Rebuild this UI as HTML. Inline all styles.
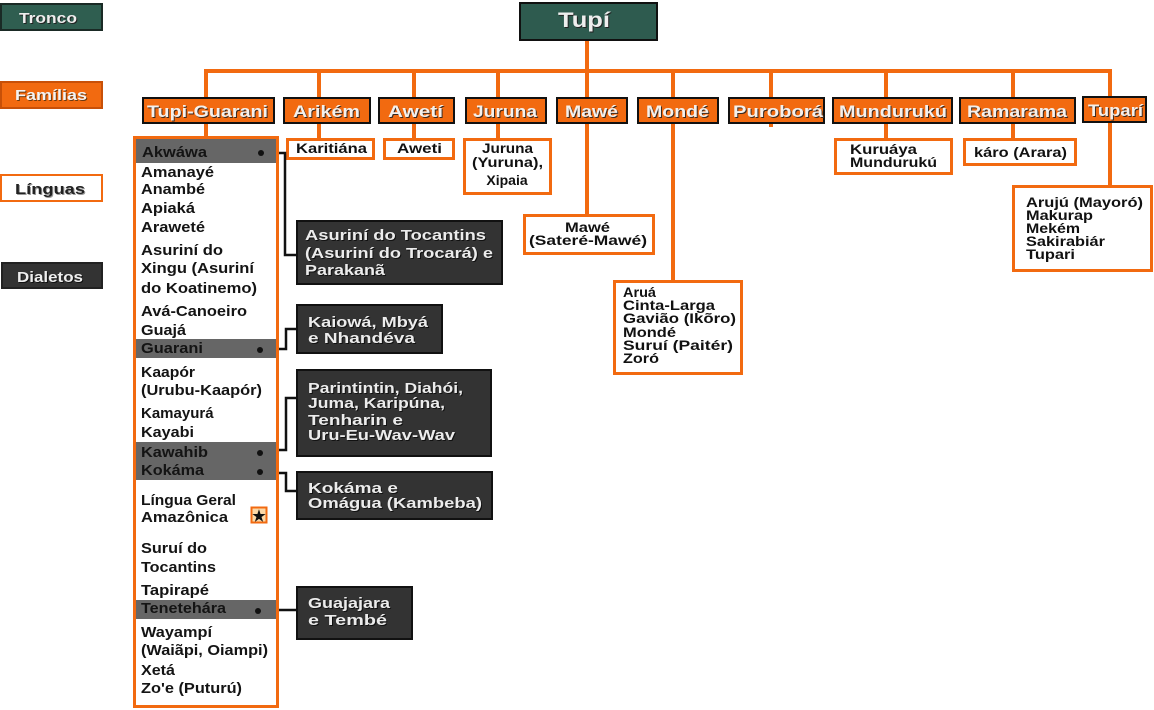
<!DOCTYPE html>
<html><head><meta charset="utf-8">
<style>
html,body{margin:0;padding:0;background:#fff;}
svg{display:block;}
text{font-family:"Liberation Sans",Arial,sans-serif;font-weight:bold;}
</style></head>
<body>
<svg width="1154" height="710" viewBox="0 0 1154 710" xmlns="http://www.w3.org/2000/svg">
<rect width="1154" height="710" fill="#fff"/>

<!-- Legend -->
<rect x="1" y="4" width="101" height="26" fill="#2f5e50" stroke="#1a2a25" stroke-width="2"/>
<text x="20" y="24" font-size="15" fill="#222" textLength="58" lengthAdjust="spacingAndGlyphs">Tronco</text>
<text x="19" y="23" font-size="15" fill="#eee" textLength="58" lengthAdjust="spacingAndGlyphs">Tronco</text>

<rect x="1" y="82" width="101" height="26" fill="#f26a10" stroke="#c85008" stroke-width="2"/>
<text x="16" y="101" font-size="15" fill="#6a3a10" textLength="72" lengthAdjust="spacingAndGlyphs">Famílias</text>
<text x="15" y="100" font-size="15" fill="#f4f4f4" textLength="72" lengthAdjust="spacingAndGlyphs">Famílias</text>

<rect x="1" y="175" width="101" height="26" fill="#fff" stroke="#f26a10" stroke-width="2"/>
<text x="16" y="195" font-size="15" fill="#999" textLength="70" lengthAdjust="spacingAndGlyphs">Línguas</text>
<text x="15" y="194" font-size="15" fill="#222" textLength="70" lengthAdjust="spacingAndGlyphs">Línguas</text>

<rect x="2" y="263" width="100" height="25" fill="#333" stroke="#222" stroke-width="2"/>
<text x="18" y="283" font-size="15" fill="#111" textLength="66" lengthAdjust="spacingAndGlyphs">Dialetos</text>
<text x="17" y="282" font-size="15" fill="#eee" textLength="66" lengthAdjust="spacingAndGlyphs">Dialetos</text>

<!-- Orange connectors -->
<g fill="#f26a10">
  <rect x="585" y="40" width="4" height="174"/>
  <rect x="204" y="69" width="908" height="4"/>
  <rect x="204" y="69" width="4" height="67"/>
  <rect x="317" y="69" width="4" height="69"/>
  <rect x="412" y="69" width="4" height="69"/>
  <rect x="496" y="69" width="4" height="69"/>
  <rect x="671" y="69" width="4" height="211"/>
  <rect x="769" y="69" width="4" height="58"/>
  <rect x="884" y="69" width="4" height="69"/>
  <rect x="1011" y="69" width="4" height="69"/>
  <rect x="1108" y="69" width="4" height="116"/>
</g>

<!-- Tupí -->
<rect x="520" y="3" width="137" height="37" fill="#2e5b4f" stroke="#111" stroke-width="2"/>
<text x="559" y="28" font-size="21" fill="#222" textLength="52" lengthAdjust="spacingAndGlyphs">Tupí</text>
<text x="558" y="27" font-size="21" fill="#eee" textLength="52" lengthAdjust="spacingAndGlyphs">Tupí</text>

<!-- Families -->
<g stroke="#111" stroke-width="2" fill="#f26a10">
  <rect x="143" y="98" width="131" height="25"/>
  <rect x="284" y="98" width="86" height="25"/>
  <rect x="379" y="98" width="75" height="25"/>
  <rect x="466" y="98" width="80" height="25"/>
  <rect x="557" y="98" width="70" height="25"/>
  <rect x="638" y="98" width="80" height="25"/>
  <rect x="729" y="98" width="95" height="25"/>
  <rect x="833" y="98" width="119" height="25"/>
  <rect x="960" y="98" width="115" height="25"/>
  <rect x="1083" y="97" width="63" height="25"/>
</g>
<g font-size="17" fill="#3a2a20">
  <text x="148" y="118" textLength="121" lengthAdjust="spacingAndGlyphs">Tupi-Guarani</text>
  <text x="294" y="118" textLength="67" lengthAdjust="spacingAndGlyphs">Arikém</text>
  <text x="389" y="118" textLength="55" lengthAdjust="spacingAndGlyphs">Awetí</text>
  <text x="474" y="118" textLength="64" lengthAdjust="spacingAndGlyphs">Juruna</text>
  <text x="566" y="118" textLength="53" lengthAdjust="spacingAndGlyphs">Mawé</text>
  <text x="647" y="118" textLength="63" lengthAdjust="spacingAndGlyphs">Mondé</text>
  <text x="734" y="118" textLength="90" lengthAdjust="spacingAndGlyphs">Puroborá</text>
  <text x="840" y="118" textLength="108" lengthAdjust="spacingAndGlyphs">Mundurukú</text>
  <text x="968" y="118" textLength="100" lengthAdjust="spacingAndGlyphs">Ramarama</text>
  <text x="1089" y="117" textLength="55" lengthAdjust="spacingAndGlyphs">Tuparí</text>
</g>
<g font-size="17" fill="#f4f0ec">
  <text x="147" y="117" textLength="121" lengthAdjust="spacingAndGlyphs">Tupi-Guarani</text>
  <text x="293" y="117" textLength="67" lengthAdjust="spacingAndGlyphs">Arikém</text>
  <text x="388" y="117" textLength="55" lengthAdjust="spacingAndGlyphs">Awetí</text>
  <text x="473" y="117" textLength="64" lengthAdjust="spacingAndGlyphs">Juruna</text>
  <text x="565" y="117" textLength="53" lengthAdjust="spacingAndGlyphs">Mawé</text>
  <text x="646" y="117" textLength="63" lengthAdjust="spacingAndGlyphs">Mondé</text>
  <text x="733" y="117" textLength="90" lengthAdjust="spacingAndGlyphs">Puroborá</text>
  <text x="839" y="117" textLength="108" lengthAdjust="spacingAndGlyphs">Mundurukú</text>
  <text x="967" y="117" textLength="100" lengthAdjust="spacingAndGlyphs">Ramarama</text>
  <text x="1088" y="116" textLength="55" lengthAdjust="spacingAndGlyphs">Tuparí</text>
</g>

<!-- Language boxes -->
<g fill="#fff" stroke="#f26a10" stroke-width="3">
  <rect x="287.5" y="139.5" width="86" height="19"/>
  <rect x="384.5" y="139.5" width="69" height="19"/>
  <rect x="464.5" y="139.5" width="86" height="54"/>
  <rect x="524.5" y="215.5" width="129" height="38"/>
  <rect x="614.5" y="281.5" width="127" height="92"/>
  <rect x="835.5" y="139.5" width="116" height="34"/>
  <rect x="964.5" y="139.5" width="111" height="25"/>
  <rect x="1013.5" y="186.5" width="138" height="84"/>
</g>
<g font-size="14" fill="#111">
  <text x="296" y="153" textLength="71" lengthAdjust="spacingAndGlyphs">Karitiána</text>
  <text x="397" y="153" textLength="45" lengthAdjust="spacingAndGlyphs">Aweti</text>
  <text x="482" y="153" textLength="51" lengthAdjust="spacingAndGlyphs">Juruna</text>
  <text x="472" y="167" textLength="71" lengthAdjust="spacingAndGlyphs">(Yuruna),</text>
  <text x="507" y="185" text-anchor="middle">Xipaia</text>
  <text x="565" y="232" textLength="45" lengthAdjust="spacingAndGlyphs">Mawé</text>
  <text x="529" y="245" textLength="118" lengthAdjust="spacingAndGlyphs">(Sateré-Mawé)</text>
  <text x="623" y="297" textLength="33" lengthAdjust="spacingAndGlyphs">Aruá</text>
  <text x="623" y="310" textLength="92" lengthAdjust="spacingAndGlyphs">Cinta-Larga</text>
  <text x="623" y="323" textLength="113" lengthAdjust="spacingAndGlyphs">Gavião (Ikõro)</text>
  <text x="623" y="337" textLength="53" lengthAdjust="spacingAndGlyphs">Mondé</text>
  <text x="623" y="350" textLength="110" lengthAdjust="spacingAndGlyphs">Suruí (Paitér)</text>
  <text x="623" y="363" textLength="36" lengthAdjust="spacingAndGlyphs">Zoró</text>
  <text x="850" y="154" textLength="67" lengthAdjust="spacingAndGlyphs">Kuruáya</text>
  <text x="850" y="167" textLength="87" lengthAdjust="spacingAndGlyphs">Mundurukú</text>
  <text x="974" y="157" textLength="93" lengthAdjust="spacingAndGlyphs">káro (Arara)</text>
  <text x="1026" y="207" textLength="117" lengthAdjust="spacingAndGlyphs">Arujú (Mayoró)</text>
  <text x="1026" y="220" textLength="67" lengthAdjust="spacingAndGlyphs">Makurap</text>
  <text x="1026" y="233" textLength="54" lengthAdjust="spacingAndGlyphs">Mekém</text>
  <text x="1026" y="246" textLength="79" lengthAdjust="spacingAndGlyphs">Sakirabiár</text>
  <text x="1026" y="259" textLength="49" lengthAdjust="spacingAndGlyphs">Tupari</text>
</g>

<!-- Left column -->
<rect x="134.5" y="137.5" width="143" height="569" fill="#fff" stroke="#f26a10" stroke-width="3"/>
<g fill="#666">
  <rect x="136" y="139" width="140" height="24"/>
  <rect x="136" y="339" width="140" height="19"/>
  <rect x="136" y="442" width="140" height="38"/>
  <rect x="136" y="600" width="140" height="19"/>
</g>
<g fill="#111">
  <circle cx="261" cy="153" r="3"/>
  <circle cx="260" cy="350" r="3"/>
  <circle cx="260" cy="453" r="3"/>
  <circle cx="260" cy="472" r="3"/>
  <circle cx="258" cy="611" r="3"/>
</g>
<g font-size="15" fill="#141414">
  <text x="142" y="157" textLength="65" lengthAdjust="spacingAndGlyphs">Akwáwa</text>
  <text x="141" y="177" textLength="73" lengthAdjust="spacingAndGlyphs">Amanayé</text>
  <text x="141" y="194" textLength="64" lengthAdjust="spacingAndGlyphs">Anambé</text>
  <text x="141" y="213" textLength="54" lengthAdjust="spacingAndGlyphs">Apiaká</text>
  <text x="141" y="232" textLength="64" lengthAdjust="spacingAndGlyphs">Araweté</text>
  <text x="141" y="255" textLength="82" lengthAdjust="spacingAndGlyphs">Asuriní do</text>
  <text x="141" y="273" textLength="113" lengthAdjust="spacingAndGlyphs">Xingu (Asuriní</text>
  <text x="141" y="293" textLength="116" lengthAdjust="spacingAndGlyphs">do Koatinemo)</text>
  <text x="141" y="316" textLength="106" lengthAdjust="spacingAndGlyphs">Avá-Canoeiro</text>
  <text x="141" y="335" textLength="45" lengthAdjust="spacingAndGlyphs">Guajá</text>
  <text x="141" y="353" textLength="62" lengthAdjust="spacingAndGlyphs">Guarani</text>
  <text x="141" y="377" textLength="54" lengthAdjust="spacingAndGlyphs">Kaapór</text>
  <text x="141" y="395" textLength="121" lengthAdjust="spacingAndGlyphs">(Urubu-Kaapór)</text>
  <text x="141" y="418">Kamayurá</text>
  <text x="141" y="437" textLength="53" lengthAdjust="spacingAndGlyphs">Kayabi</text>
  <text x="141" y="457" textLength="67" lengthAdjust="spacingAndGlyphs">Kawahib</text>
  <text x="141" y="475" textLength="63" lengthAdjust="spacingAndGlyphs">Kokáma</text>
  <text x="141" y="505" textLength="95" lengthAdjust="spacingAndGlyphs">Língua Geral</text>
  <text x="141" y="522" textLength="87" lengthAdjust="spacingAndGlyphs">Amazônica</text>
  <text x="141" y="553" textLength="66" lengthAdjust="spacingAndGlyphs">Suruí do</text>
  <text x="141" y="572" textLength="75" lengthAdjust="spacingAndGlyphs">Tocantins</text>
  <text x="141" y="595" textLength="68" lengthAdjust="spacingAndGlyphs">Tapirapé</text>
  <text x="141" y="613" textLength="85" lengthAdjust="spacingAndGlyphs">Tenetehára</text>
  <text x="141" y="637" textLength="71" lengthAdjust="spacingAndGlyphs">Wayampí</text>
  <text x="141" y="655" textLength="127" lengthAdjust="spacingAndGlyphs">(Waiãpi, Oiampi)</text>
  <text x="141" y="675" textLength="34" lengthAdjust="spacingAndGlyphs">Xetá</text>
  <text x="141" y="693" textLength="101" lengthAdjust="spacingAndGlyphs">Zo'e (Puturú)</text>
</g>
<!-- star box -->
<rect x="251.5" y="507.5" width="15" height="15" fill="#fcd9a8" stroke="#f26a10" stroke-width="2"/>
<text x="259" y="521" font-size="15" fill="#111" text-anchor="middle">★</text>

<!-- Black connectors -->
<g fill="none" stroke="#111" stroke-width="2.5">
  <path d="M279,153 H285 V255 H297"/>
  <path d="M279,349 H286 V329 H297"/>
  <path d="M279,450 H286 V398 H297"/>
  <path d="M279,473 H286 V491 H297"/>
  <path d="M279,610 H297"/>
</g>

<!-- Dialect boxes -->
<g fill="#333" stroke="#111" stroke-width="2">
  <rect x="297" y="221" width="205" height="63"/>
  <rect x="297" y="305" width="145" height="48"/>
  <rect x="297" y="370" width="194" height="86"/>
  <rect x="297" y="472" width="195" height="47"/>
  <rect x="297" y="587" width="115" height="52"/>
</g>
<g font-size="15" fill="#111">
  <text x="306" y="241" textLength="181" lengthAdjust="spacingAndGlyphs">Asuriní do Tocantins</text>
  <text x="306" y="259" textLength="188" lengthAdjust="spacingAndGlyphs">(Asuriní do Trocará) e</text>
  <text x="306" y="276" textLength="80" lengthAdjust="spacingAndGlyphs">Parakanã</text>
  <text x="309" y="328" textLength="120" lengthAdjust="spacingAndGlyphs">Kaiowá, Mbyá</text>
  <text x="309" y="344" textLength="107" lengthAdjust="spacingAndGlyphs">e  Nhandéva</text>
  <text x="309" y="394" textLength="155" lengthAdjust="spacingAndGlyphs">Parintintin, Diahói,</text>
  <text x="309" y="409" textLength="137" lengthAdjust="spacingAndGlyphs">Juma, Karipúna,</text>
  <text x="309" y="426" textLength="95" lengthAdjust="spacingAndGlyphs">Tenharin  e</text>
  <text x="309" y="441" textLength="147" lengthAdjust="spacingAndGlyphs">Uru-Eu-Wav-Wav</text>
  <text x="309" y="494" textLength="90" lengthAdjust="spacingAndGlyphs">Kokáma  e</text>
  <text x="309" y="509" textLength="174" lengthAdjust="spacingAndGlyphs">Omágua (Kambeba)</text>
  <text x="309" y="609" textLength="82" lengthAdjust="spacingAndGlyphs">Guajajara</text>
  <text x="309" y="626" textLength="79" lengthAdjust="spacingAndGlyphs">e  Tembé</text>
</g>
<g font-size="15" fill="#ececec">
  <text x="305" y="240" textLength="181" lengthAdjust="spacingAndGlyphs">Asuriní do Tocantins</text>
  <text x="305" y="258" textLength="188" lengthAdjust="spacingAndGlyphs">(Asuriní do Trocará) e</text>
  <text x="305" y="275" textLength="80" lengthAdjust="spacingAndGlyphs">Parakanã</text>
  <text x="308" y="327" textLength="120" lengthAdjust="spacingAndGlyphs">Kaiowá, Mbyá</text>
  <text x="308" y="343" textLength="107" lengthAdjust="spacingAndGlyphs">e  Nhandéva</text>
  <text x="308" y="393" textLength="155" lengthAdjust="spacingAndGlyphs">Parintintin, Diahói,</text>
  <text x="308" y="408" textLength="137" lengthAdjust="spacingAndGlyphs">Juma, Karipúna,</text>
  <text x="308" y="425" textLength="95" lengthAdjust="spacingAndGlyphs">Tenharin  e</text>
  <text x="308" y="440" textLength="147" lengthAdjust="spacingAndGlyphs">Uru-Eu-Wav-Wav</text>
  <text x="308" y="493" textLength="90" lengthAdjust="spacingAndGlyphs">Kokáma  e</text>
  <text x="308" y="508" textLength="174" lengthAdjust="spacingAndGlyphs">Omágua (Kambeba)</text>
  <text x="308" y="608" textLength="82" lengthAdjust="spacingAndGlyphs">Guajajara</text>
  <text x="308" y="625" textLength="79" lengthAdjust="spacingAndGlyphs">e  Tembé</text>
</g>
</svg>
</body></html>
